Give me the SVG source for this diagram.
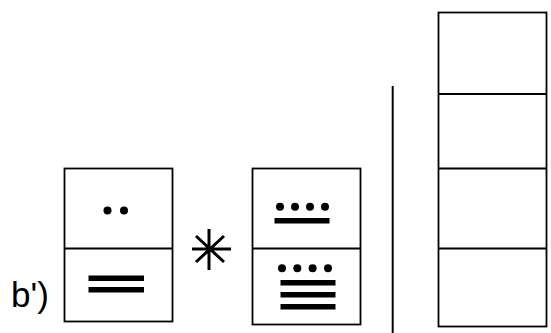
<svg xmlns="http://www.w3.org/2000/svg" width="551" height="333" viewBox="0 0 551 333">
<style>
.box{fill:none;stroke:#000;stroke-width:1.8}
.bar{fill:#000}
.lbl{font-family:"Liberation Sans",Arial,sans-serif;font-size:35px;fill:#000}
.ast{stroke:#000;stroke-width:3;fill:none}
</style>
<rect width="551" height="333" fill="#fff"/>
<text class="lbl" x="11" y="306.5">b')</text>
<g id="left-glyph">
<rect class="box" x="64.5" y="168.5" width="108" height="153"/>
<line class="box" x1="64.5" y1="248.5" x2="172.5" y2="248.5"/>
<circle cx="107.5" cy="210.5" r="4"/>
<circle cx="124" cy="210.5" r="4"/>
<rect class="bar" x="88.5" y="275.5" width="55.5" height="5.5"/>
<rect class="bar" x="88.5" y="287" width="55.5" height="5.5"/>
</g>
<g id="asterisk">
<path class="ast" d="M209,229 V270 M192,249 H231 M196,236 L224,262 M224,236 L196,262"/>
</g>
<g id="middle-glyph">
<rect class="box" x="252.5" y="168.5" width="108" height="156"/>
<line class="box" x1="252.5" y1="248.5" x2="360.5" y2="248.5"/>
<circle cx="280" cy="206.7" r="4"/>
<circle cx="295" cy="206.7" r="4"/>
<circle cx="310" cy="206.7" r="4"/>
<circle cx="325" cy="206.7" r="4"/>
<rect class="bar" x="274.5" y="218" width="55" height="5.5"/>
<circle cx="282" cy="268.3" r="4"/>
<circle cx="297.3" cy="268.3" r="4"/>
<circle cx="312.6" cy="268.3" r="4"/>
<circle cx="328" cy="268.3" r="4"/>
<rect class="bar" x="280.5" y="280" width="55" height="5.5"/>
<rect class="bar" x="280.5" y="292" width="55" height="5.5"/>
<rect class="bar" x="280.5" y="304" width="55" height="5.5"/>
</g>
<g id="connectors">
<line x1="392.7" y1="86" x2="392.7" y2="333" stroke="#000" stroke-width="2"/>
</g>
<g id="right-column">
<rect class="box" x="438.5" y="12.5" width="108" height="314" stroke-width="2"/>
<line class="box" x1="438.5" y1="94" x2="546.5" y2="94"/>
<line class="box" x1="438.5" y1="168.5" x2="546.5" y2="168.5"/>
<line class="box" x1="438.5" y1="248.5" x2="546.5" y2="248.5"/>
</g>
</svg>
